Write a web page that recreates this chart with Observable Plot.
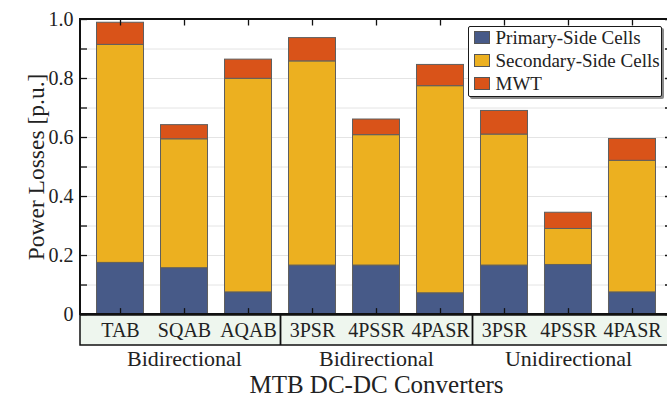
<!DOCTYPE html>
<html><head><meta charset="utf-8">
<script src="https://cdn.jsdelivr.net/npm/d3@7"></script>
<script src="https://cdn.jsdelivr.net/npm/@observablehq/plot@0.6"></script>
<style>
body{margin:0;background:#fff;overflow:hidden;}
#wrap{position:relative;width:667px;height:396px;overflow:hidden;}
#wrap svg{max-width:none !important;}
#legend{position:absolute;left:468px;top:26px;width:192px;height:69px;background:#fff;border:1.5px solid #1a1a1a;border-radius:2px;box-shadow:2px 2px 0 #8a8a8a;font-family:"Liberation Serif",serif;font-size:19px;color:#222;}
.row{position:absolute;left:4.5px;height:23px;display:flex;align-items:center;white-space:nowrap;}
.sw{width:16px;height:13px;border:1px solid #555;box-sizing:border-box;margin-right:6px;}
</style></head><body><div id="wrap"><div id="legend"></div></div>
<script>
const categories = ["TAB","SQAB","AQAB","3PSR","4PSSR","4PASR","3PSR","4PSSR","4PASR"];
const groupLabels = ["Bidirectional","Bidirectional","Unidirectional"];
const groupMembers = [[0,1,2],[3,4,5],[6,7,8]];
const seriesNames = ["Primary-Side Cells","Secondary-Side Cells","MWT"];
const seriesColors = ["#475a88","#ecb020","#d95319"];
const primary   = [0.175,0.157,0.075,0.166,0.166,0.072,0.166,0.168,0.075];
const secondary = [0.739,0.437,0.724,0.692,0.442,0.702,0.444,0.122,0.446];
const mwt       = [0.075,0.048,0.065,0.079,0.053,0.072,0.080,0.055,0.074];
const yTicks = [0,0.1,0.2,0.3,0.4,0.5,0.6,0.7,0.8,0.9,1.0];
const yLabelTicks = [0,0.2,0.4,0.6,0.8,1.0];
const yTickLabels = ["0","0.2","0.4","0.6","0.8","1.0"];
const xTitle = "MTB DC-DC Converters";
const yTitle = "Power Losses [p.u.]";

const ids = categories.map((_, i) => String(i));
const seriesValues = [primary, secondary, mwt];
const data = [];
ids.forEach((id, i) => seriesNames.forEach((s, k) => data.push({id, series: s, value: seriesValues[k][i]})));

const bandBottom = -0.105;
const gridTicks = yTicks.filter(t => t > 0 && t < 1);

const chart = Plot.plot({
  width: 672, height: 396,
  marginLeft: 80, marginRight: 0, marginTop: 19, marginBottom: 51,
  style: {fontFamily: "'Liberation Serif', serif", fontSize: "20px", color: "#222", background: "transparent", maxWidth: "none"},
  x: {type: "band", domain: ids, paddingInner: 0.2656, paddingOuter: 0.258, round: false, axis: null},
  y: {domain: [bandBottom, 1], axis: null},
  color: {domain: seriesNames, range: seriesColors},
  marks: [
    Plot.rect([0], {y1: bandBottom, y2: 0, fill: "#eef6ee", stroke: "#111", strokeWidth: 1.5}),
    Plot.ruleY(gridTicks, {y: d => d, stroke: "#e4e4e4", strokeWidth: 1}),
    Plot.barY(data, {x: "id", y: "value", fill: "series", stroke: "#5f5f5f", strokeWidth: 1}),
    Plot.ruleY(yTicks, {y: d => d, insetRight: 585, stroke: "#111", strokeWidth: 1.3}),
    Plot.ruleY(yTicks, {y: d => d, insetLeft: 585, stroke: "#111", strokeWidth: 1.3}),
    Plot.ruleX(ids, {x: d => d, y1: 1, y2: 0.978, stroke: "#111", strokeWidth: 1.3}),
    Plot.ruleX(ids, {x: d => d, y1: 0, y2: 0.02, stroke: "#111", strokeWidth: 1.3}),
    Plot.rect([0], {y1: 0, y2: 1, fill: "none", stroke: "#111", strokeWidth: 2}),
    Plot.ruleY([0], {stroke: "#111", strokeWidth: 2.6}),
    Plot.ruleX([ids[3], ids[6]], {x: d => d, y1: bandBottom, y2: 0, dx: -32, stroke: "#111", strokeWidth: 1.8}),
    Plot.text(yLabelTicks, {y: d => d, frameAnchor: "left", textAnchor: "end", dx: -7, text: (d, i) => yTickLabels[i], fontSize: 20, fill: "#222"}),
    Plot.text(ids, {x: d => d, y: bandBottom / 2, dy: 1, text: d => categories[+d], fontSize: 20, fill: "#222"}),
    Plot.text(groupLabels, {x: (d, i) => ids[groupMembers[i][1]], y: bandBottom, dy: 13, text: d => d, fontSize: 22, fill: "#222"}),
    Plot.text([xTitle], {x: () => ids[4], y: bandBottom, dy: 39, text: d => d, fontSize: 25, fill: "#222"}),
    Plot.text([yTitle], {y: 0.5, frameAnchor: "left", textAnchor: "middle", dx: -44.5, rotate: -90, text: d => d, fontSize: 23.5, fill: "#222"})
  ]
});
const wrap = document.getElementById("wrap");
wrap.insertBefore(chart, wrap.firstChild);

const legend = document.getElementById("legend");
seriesNames.forEach((s, k) => {
  const row = document.createElement("div");
  row.className = "row";
  row.style.top = (k * 23 - 1) + "px";
  const sw = document.createElement("span");
  sw.className = "sw";
  sw.style.background = seriesColors[k];
  const t = document.createElement("span");
  t.textContent = s;
  row.appendChild(sw); row.appendChild(t);
  legend.appendChild(row);
});
</script></body></html>
